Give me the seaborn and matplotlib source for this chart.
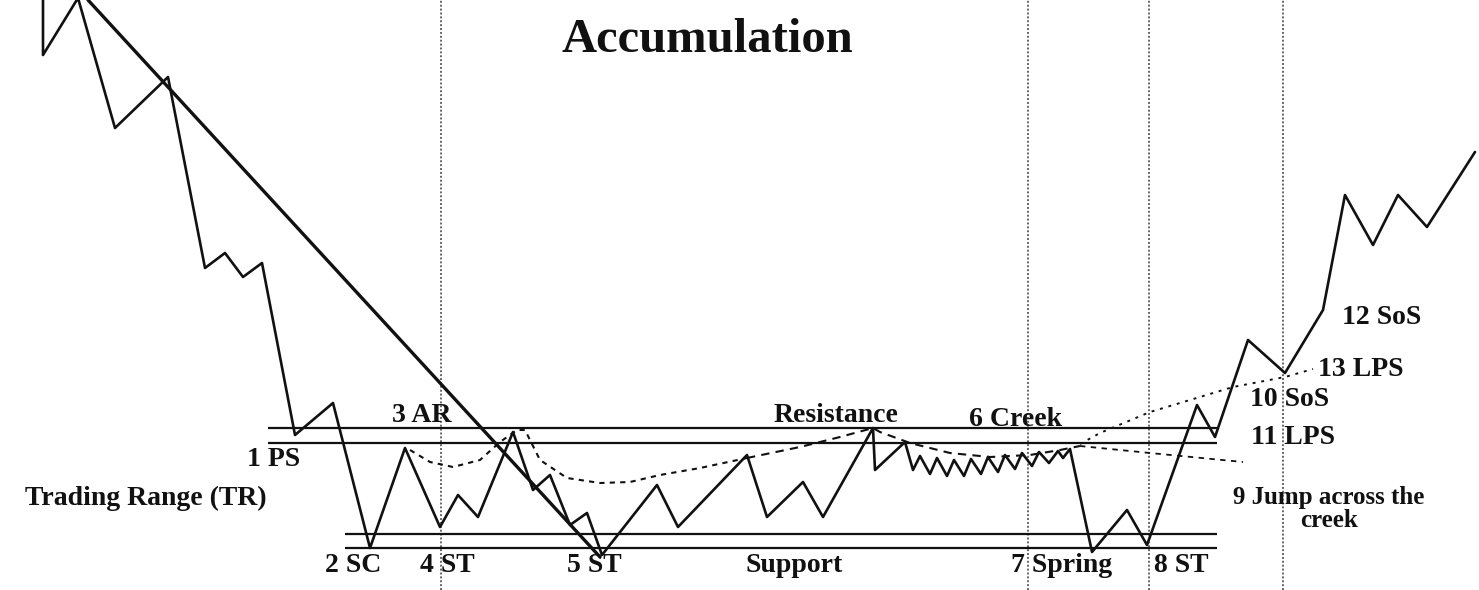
import matplotlib
matplotlib.use("Agg")
import matplotlib.pyplot as plt
import seaborn as sns
import pandas as pd

sns.set_theme(style="white")
plt.rcParams['font.family'] = ['Liberation Serif', 'DejaVu Serif']

# ---- data (schematic price units, time units) ----
price_t = [43, 43, 78, 115, 168, 205, 225, 243, 262, 295, 333, 370, 405, 440, 458,
           478, 513, 533, 550, 570, 587, 602, 657, 678, 747, 767, 803, 823, 873, 875,
           905, 913, 920, 930, 937, 947, 954, 964, 971, 981, 988, 998, 1005, 1015,
           1022, 1032, 1039, 1049, 1058, 1063, 1070, 1092, 1127, 1147, 1197, 1215,
           1248, 1285, 1323, 1345, 1373, 1398, 1427, 1475]
price_v = [593, 535, 592, 462, 513, 322, 337, 313, 327, 155, 187, 42, 142, 63, 95,
           73, 158, 100, 115, 65, 77, 35, 105, 63, 135, 73, 108, 73, 162, 120,
           148, 120, 134, 116, 132, 114, 130, 114, 131, 116, 133, 118, 135, 121,
           137, 124, 138, 127, 139, 132, 141, 38, 80, 45, 185, 153,
           250, 217, 280, 395, 345, 395, 363, 438]

trend_t = [88, 600]
trend_v = [590, 33]

resistance_levels = [162, 147]
resistance_span = [268, 1217]
support_levels = [56, 42]
support_span = [345, 1217]

phase_lines_t = [441, 1028, 1149, 1283]

arc_t = [410, 430, 453, 480, 500, 517, 525, 540, 567, 600, 630, 660, 700, 747]
arc_v = [140, 128, 123, 130, 148, 160, 160, 130, 112, 107, 108, 115, 122, 132]
creek_t = [747, 800, 840, 873, 880, 910, 950, 990, 1030, 1060, 1080]
creek_v = [132, 143, 153, 162, 158, 147, 137, 133, 135, 140, 144]
fall_t = [1080, 1150, 1243]
fall_v = [144, 137, 128]
rise_t = [1080, 1100, 1150, 1190, 1233, 1285, 1313]
rise_v = [146, 157, 178, 190, 203, 213, 221]

labels = ["Accumulation", "1 PS", "Trading Range (TR)", "2 SC", "3 AR", "4 ST",
          "5 ST", "Support", "Resistance", "6 Creek", "7 Spring", "8 ST",
          "9 Jump across the\ncreek", "10 SoS", "11 LPS", "12 SoS", "13 LPS"]
label_t = [707, 274, 146, 353, 422, 447, 594, 794, 836, 1016, 1062, 1181,
           1329, 1290, 1293, 1382, 1361]
label_v = [550, 130, 92, 24, 175, 24, 24, 24, 175, 170, 24, 24,
           81, 191, 153, 273, 220]

# ---- figure ----
fig = plt.figure(figsize=(14.79, 5.90), dpi=100)
ax = fig.add_axes([0, 0, 1, 1])
ax.set_xlim(0, 1479)
ax.set_ylim(0, 590)
ax.axis("off")

ink = "#111111"

for xv in phase_lines_t:
    ax.axvline(xv, color="#666666", lw=1.4, ls=(0, (1, 1)), zorder=1)

for lv in resistance_levels:
    ax.hlines(lv, resistance_span[0], resistance_span[1], color=ink, lw=1.6, zorder=2)
for lv in support_levels:
    ax.hlines(lv, support_span[0], support_span[1], color=ink, lw=1.6, zorder=2)

sns.lineplot(x=arc_t, y=arc_v, sort=False, estimator=None, ax=ax,
             color=ink, lw=1.5, linestyle=(0, (2.5, 2.5)), zorder=3)
sns.lineplot(x=creek_t, y=creek_v, sort=False, estimator=None, ax=ax,
             color=ink, lw=1.5, linestyle=(0, (4, 3)), zorder=3)
sns.lineplot(x=fall_t, y=fall_v, sort=False, estimator=None, ax=ax,
             color=ink, lw=1.3, linestyle=(0, (3, 3)), zorder=3)
sns.lineplot(x=rise_t, y=rise_v, sort=False, estimator=None, ax=ax,
             color=ink, lw=1.4, linestyle=(0, (1.5, 3)), zorder=3)

sns.lineplot(x=trend_t, y=trend_v, sort=False, estimator=None, ax=ax,
             color=ink, lw=2.4, zorder=4)

df = pd.DataFrame({"t": price_t, "price": price_v})
sns.lineplot(data=df, x="t", y="price", sort=False, estimator=None, ax=ax,
             color=ink, lw=1.9, zorder=5)

for txt, tx, ty in zip(labels, label_t, label_v):
    if txt == "Accumulation":
        fs, lsp = 35, 1.2
    elif "\n" in txt:
        fs, lsp = 18, 0.95
    else:
        fs, lsp = 20, 1.2
    ax.text(tx, ty, txt, ha="center", va="center", fontsize=fs,
            fontweight="bold", color=ink, zorder=6, linespacing=lsp,
            multialignment="center")

ax.set_xlim(0, 1479)
ax.set_ylim(0, 590)
fig.savefig("out.png", dpi=100, facecolor="white")
